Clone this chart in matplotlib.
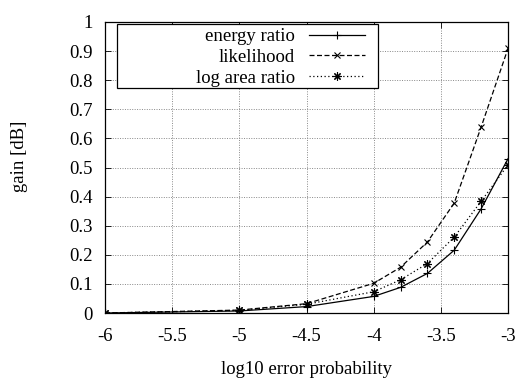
import matplotlib
matplotlib.use("Agg")
import matplotlib.pyplot as plt
from matplotlib.patches import Rectangle

plt.rcParams["font.family"] = ["Liberation Serif", "DejaVu Serif"]
plt.rcParams["axes.unicode_minus"] = False
plt.rcParams["font.size"] = 13.5

# data
log_err = [-6, -5, -4.5, -4, -3.8, -3.6, -3.4, -3.2, -3]
energy = [0.0, 0.007, 0.022, 0.057, 0.088, 0.136, 0.216, 0.358, 0.53]
likelihood = [0.0, 0.010, 0.032, 0.102, 0.157, 0.244, 0.378, 0.639, 0.909]
log_area = [0.0, 0.009, 0.030, 0.073, 0.114, 0.170, 0.261, 0.384, 0.509]

x_ticks = [-6, -5.5, -5, -4.5, -4, -3.5, -3]
x_labels = ["-6", "-5.5", "-5", "-4.5", "-4", "-3.5", "-3"]
y_ticks = [0, 0.1, 0.2, 0.3, 0.4, 0.5, 0.6, 0.7, 0.8, 0.9, 1]
y_labels = ["0", "0.1", "0.2", "0.3", "0.4", "0.5", "0.6", "0.7", "0.8", "0.9", "1"]

W, H = 518, 381
fig = plt.figure(figsize=(W / 100, H / 100), dpi=100)
ax = fig.add_axes([105 / W, 1 - 313 / H, 403 / W, 291 / H])

ax.plot(log_err, energy, color="black", linestyle="-", linewidth=0.9,
        marker="+", markersize=6, markeredgewidth=0.8, label="energy ratio")
ax.plot(log_err, likelihood, color="black", linestyle=(0, (4, 2)), linewidth=0.9,
        marker="x", markersize=5, markeredgewidth=0.8, label="likelihood")
ax.plot(log_err, log_area, color="black", linestyle=(0, (1, 2)), linewidth=0.9,
        marker=(8, 2, 0), markersize=6, markeredgewidth=0.8, label="log area ratio")

ax.set_xlim(-6, -3)
ax.set_ylim(0, 1)
ax.set_xticks(x_ticks)
ax.set_xticklabels(x_labels)
ax.set_yticks(y_ticks)
ax.set_yticklabels(y_labels)
ax.tick_params(direction="in", top=True, right=True, length=4, width=0.6)
ax.tick_params(axis="x", pad=11)
ax.tick_params(axis="y", pad=9)
ax.grid(True, color="#888888", linestyle=(0, (1, 1.5)), linewidth=0.7)
for s in ax.spines.values():
    s.set_linewidth(0.9)

ax.set_xlabel("log10 error probability")
ax.xaxis.set_label_coords(0.5, -0.165)
ax.set_ylabel("gain [dB]")
ax.yaxis.set_label_coords(-0.19, 0.54)

# gnuplot-style key: text right-aligned, samples on the right, wide frame
leg = ax.legend(loc="upper right",
                bbox_to_anchor=(365 / W, 1 - 28 / H),
                bbox_transform=fig.transFigure,
                markerfirst=False, frameon=False, handlelength=3.0,
                borderpad=0, labelspacing=0.2, handletextpad=0.75,
                borderaxespad=0)
frame = Rectangle((117 / W, 1 - 88 / H), 261 / W, 64 / H,
                  transform=fig.transFigure, facecolor="white",
                  edgecolor="black", linewidth=0.9, zorder=4)
ax.add_artist(frame)
leg.set_zorder(5)

fig.savefig("out.png", dpi=100)
